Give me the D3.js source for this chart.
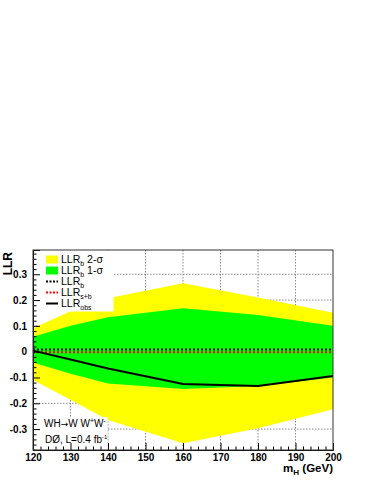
<!DOCTYPE html>
<html>
<head>
<meta charset="utf-8">
<script src="https://cdn.jsdelivr.net/npm/d3@7"></script>
<style>
	body { margin: 0; background: #fff; }
	svg { display: block; font-family: "Liberation Sans", Arial, sans-serif; }
</style>
</head>
<body>
<svg id="chart"></svg>
<script>
//higgs mass points (GeV)
var mass = [120, 130, 140, 160, 180, 200];
//expected LLR_b bands
var band2Up = [0.091, 0.157, 0.207, 0.265, 0.210, 0.151];
var band1Up = [0.058, 0.100, 0.133, 0.168, 0.142, 0.100];
var band1Dn = [-0.042, -0.086, -0.123, -0.145, -0.133, -0.100];
var band2Dn = [-0.110, -0.186, -0.265, -0.355, -0.297, -0.223];
//LLR curves
var llrB = [0.008, 0.008, 0.008, 0.008, 0.008, 0.008];
var llrSB = [-0.002, -0.002, -0.002, -0.002, -0.002, -0.002];
var llrObs = [0.004, -0.030, -0.065, -0.125, -0.133, -0.094];
//tick labels
var xTicks = [120, 130, 140, 150, 160, 170, 180, 190, 200];
var yTicks = [-0.3, -0.2, -0.1, 0, 0.1, 0.2, 0.3];
//legend entries
var legendItems = [
	{main: "LLR", sub: "b", rest: " 2-\u03c3", kind: "box", color: "#ffff00"},
	{main: "LLR", sub: "b", rest: " 1-\u03c3", kind: "box", color: "#00ff00"},
	{main: "LLR", sub: "b", rest: "", kind: "dot", color: "#000"},
	{main: "LLR", sub: "s+b", rest: "", kind: "dot", color: "#ff0000"},
	{main: "LLR", sub: "obs", rest: "", kind: "line", color: "#000"}
];

var svgWidth = 371, svgHeight = 480;
var frame = {left: 33, right: 333, top: 250, bottom: 450};

var svg = d3.select("#chart")
	.attr("width", svgWidth)
	.attr("height", svgHeight);

var x = d3.scaleLinear()
	.domain([120, 200])
	.range([frame.left, frame.right]);

var y = d3.scaleLinear()
	.domain([-0.381, 0.394])
	.range([frame.bottom, frame.top]);

//grid
var grid = svg.append("g")
	.attr("stroke", "#8a8a8a")
	.attr("stroke-width", 1)
	.attr("stroke-dasharray", "1.5,1.5");
grid.selectAll(".gx")
	.data(xTicks.slice(1, -1))
	.join("line")
	.attr("x1", d => x(d)).attr("x2", d => x(d))
	.attr("y1", frame.top).attr("y2", frame.bottom);
grid.selectAll(".gy")
	.data(yTicks)
	.join("line")
	.attr("x1", frame.left).attr("x2", frame.right)
	.attr("y1", d => y(d)).attr("y2", d => y(d));

//bands
var band = function(lo, hi){
	return d3.area()
		.x((d, i) => x(mass[i]))
		.y0((d, i) => y(lo[i]))
		.y1((d, i) => y(hi[i]))(mass);
};
svg.append("path").attr("d", band(band2Dn, band2Up)).attr("fill", "#ffff00");
svg.append("path").attr("d", band(band1Dn, band1Up)).attr("fill", "#00ff00");

var line = d3.line()
	.x((d, i) => x(mass[i]))
	.y(d => y(d));

svg.append("path")
	.attr("d", line(llrSB))
	.attr("fill", "none")
	.attr("stroke", "#ff0000")
	.attr("stroke-width", 2)
	.attr("stroke-dasharray", "2,2");
svg.append("path")
	.attr("d", line(llrB))
	.attr("fill", "none")
	.attr("stroke", "#000")
	.attr("stroke-width", 2)
	.attr("stroke-dasharray", "2,2");
svg.append("path")
	.attr("d", line(llrObs))
	.attr("fill", "none")
	.attr("stroke", "#000")
	.attr("stroke-width", 2);

//legend box
var legend = svg.append("g");
legend.append("rect")
	.attr("x", frame.left + 0.5).attr("y", frame.top + 0.5)
	.attr("width", 80).attr("height", 61)
	.attr("fill", "#fff");
var rows = legend.selectAll("g.row")
	.data(legendItems)
	.join("g")
	.attr("class", "row")
	.attr("transform", (d, i) => `translate(0,${259.5 + i * 11})`);
rows.filter(d => d.kind === "box").append("rect")
	.attr("x", 46).attr("y", -4).attr("width", 12).attr("height", 8)
	.attr("fill", d => d.color);
rows.filter(d => d.kind !== "box").append("line")
	.attr("x1", 46).attr("x2", 58)
	.attr("stroke", d => d.color)
	.attr("stroke-width", 2)
	.attr("stroke-dasharray", d => d.kind === "dot" ? "2,1.5" : null);
var ltext = rows.append("text")
	.attr("x", 61).attr("y", 3.5)
	.style("font-size", "10.5px");
ltext.append("tspan").text(d => d.main);
ltext.append("tspan").attr("dy", 3).style("font-size", "7px").text(d => d.sub);
ltext.append("tspan").attr("dy", -3).text(d => d.rest);

//process label box
var info = svg.append("g");
info.append("rect")
	.attr("x", frame.left + 0.5).attr("y", 417)
	.attr("width", 74).attr("height", frame.bottom - 417)
	.attr("fill", "#fff");
var t1 = info.append("text").attr("x", 44).attr("y", 427).style("font-size", "10px");
t1.append("tspan").text("WH");
t1.append("tspan").style("font-family", "DejaVu Sans").style("font-size", "9px").text("\u2192");
t1.append("tspan").text("W W");
t1.append("tspan").attr("dy", -4).style("font-size", "7px").text("+");
t1.append("tspan").attr("dy", 4).text("W");
t1.append("tspan").attr("dy", -4).style("font-size", "7px").text("-");
var t2 = info.append("text").attr("x", 45).attr("y", 443).style("font-size", "10px");
t2.append("tspan").text("D\u00d8, L=0.4 fb");
t2.append("tspan").attr("dy", -4).style("font-size", "6px").text("-1");

//axes
var fmt = d => d === 0 ? "0" : d3.format(".1f")(d).replace("\u2212", "-");
var xAxis = svg.append("g")
	.attr("transform", `translate(0,${frame.bottom})`)
	.call(d3.axisBottom(x).tickValues(xTicks).tickSize(-7).tickPadding(3.5).tickFormat(d3.format("d")));
svg.append("g")
	.attr("transform", `translate(0,${frame.bottom})`)
	.call(d3.axisBottom(x).tickValues(d3.range(122, 200, 2).filter(d => d % 10 !== 0)).tickSize(-3.5).tickFormat(""))
	.call(g => g.select(".domain").remove());
var yAxis = svg.append("g")
	.attr("transform", `translate(${frame.left},0)`)
	.call(d3.axisLeft(y).tickValues(yTicks).tickSize(-7).tickPadding(6).tickFormat(fmt));
svg.append("g")
	.attr("transform", `translate(${frame.left},0)`)
	.call(d3.axisLeft(y).tickValues(d3.range(-0.38, 0.39, 0.02).filter(d => Math.abs(Math.round(d * 50) % 5) !== 0)).tickSize(-3.5).tickFormat(""))
	.call(g => g.select(".domain").remove());
svg.selectAll(".domain").attr("stroke", "#000");
svg.selectAll(".tick line").attr("stroke", "#000");
xAxis.selectAll("text").style("font-size", "10px").style("font-weight", "bold").attr("fill", "#000");
yAxis.selectAll("text").style("font-size", "10px").style("font-weight", "bold").attr("fill", "#000");

//frame
svg.append("rect")
	.attr("x", frame.left).attr("y", frame.top)
	.attr("width", frame.right - frame.left).attr("height", frame.bottom - frame.top)
	.attr("fill", "none")
	.attr("stroke", "#333");

//axis titles
var xt = svg.append("text")
	.attr("x", frame.right).attr("y", 472)
	.attr("text-anchor", "end")
	.style("font-size", "11.5px").style("font-weight", "bold");
xt.append("tspan").text("m");
xt.append("tspan").attr("dy", 3).style("font-size", "8px").text("H");
xt.append("tspan").attr("dy", -3).text(" (GeV)");
svg.append("text")
	.attr("transform", `translate(12,${frame.top + 2}) rotate(-90)`)
	.attr("text-anchor", "end")
	.style("font-size", "12px").style("font-weight", "bold")
	.text("LLR");
</script>
</body>
</html>
